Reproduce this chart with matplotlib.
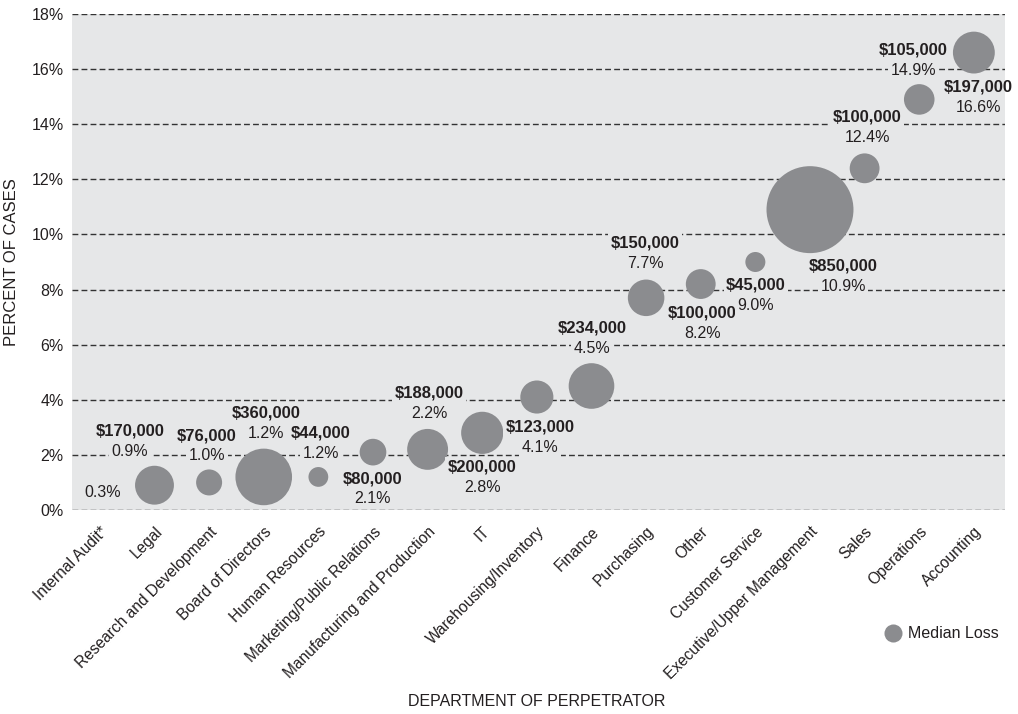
import matplotlib
matplotlib.use('Agg')
import matplotlib.pyplot as plt
from matplotlib.lines import Line2D
from matplotlib.ticker import FuncFormatter

# ------------------------------------------------------------
# 数据: 作案者所在部门 / 案件占比 / 损失中位数
# ------------------------------------------------------------
departments = [
    'Internal Audit*', 'Legal', 'Research and Development', 'Board of Directors',
    'Human Resources', 'Marketing/Public Relations', 'Manufacturing and Production',
    'IT', 'Warehousing/Inventory', 'Finance', 'Purchasing', 'Other',
    'Customer Service', 'Executive/Upper Management', 'Sales', 'Operations',
    'Accounting',
]
pct_cases = [0.3, 0.9, 1.0, 1.2, 1.2, 2.1, 2.2, 2.8, 4.1, 4.5, 7.7, 8.2,
             9.0, 10.9, 12.4, 14.9, 16.6]
# Internal Audit 无损失中位数 (样本不足)
median_loss = [None, 170000, 76000, 360000, 44000, 80000, 188000, 200000,
               123000, 234000, 150000, 100000, 45000, 850000, 100000,
               105000, 197000]

# 标签相对气泡的偏移 (数据坐标: dx 类别, dy 百分点)
label_offset = [
    (0.05, 0.32), (-0.45, 1.97), (-0.04, 1.69), (0.04, 2.32), (0.05, 1.59),
    (0.0, -0.97), (0.03, 2.05), (0.0, -1.24), (0.06, -1.09), (0.01, 2.10),
    (-0.02, 1.99), (0.03, -1.05), (0.01, -0.84), (0.61, -2.05),
    (0.05, 1.86), (-0.11, 1.79), (0.08, -1.25),
]

BG = '#e6e7e8'
BUBBLE = '#8b8c8f'
INK = '#231f20'
LINE_GAP = 0.73     # 金额与百分比两行之间的距离
SIZE_SCALE = 3920 / 850000   # 面积 ∝ 损失中位数

plt.rcParams['font.family'] = ['Liberation Sans', 'DejaVu Sans']

fig = plt.figure(figsize=(10.18, 7.14), dpi=100)
ax = fig.add_axes([72 / 1018, 1 - 510 / 714, (1005 - 72) / 1018, 496 / 714])
ax.set_facecolor(BG)

xs = list(range(len(departments)))

# 网格线 (虚线)
for yv in range(0, 19, 2):
    ax.axhline(yv, color='#333333', lw=1.0, ls=(0, (4.2, 2.3)), zorder=1)

# 气泡
bx = [x for x, m in zip(xs, median_loss) if m is not None]
by = [y for y, m in zip(pct_cases, median_loss) if m is not None]
bs = [m * SIZE_SCALE for m in median_loss if m is not None]
ax.scatter(bx, by, s=bs, color=BUBBLE, edgecolors='none', zorder=3)


def label(x, y, s, **kw):
    """文字底下垫一块背景色, 遮住虚线; 底块裁剪到绘图区内"""
    common = dict(ha='center', va='center', color=INK, zorder=4)
    common.update(kw)
    mask = dict(common, color=(0, 0, 0, 0),
                bbox=dict(boxstyle='square,pad=0.15', fc=BG, ec='none'))
    ax.text(x, y, s, clip_on=True, **mask)
    ax.text(x, y, s, **common)


for x, y, m, (dx, dy) in zip(xs, pct_cases, median_loss, label_offset):
    tx, ty = x + dx, y + dy
    if m is None:
        label(tx, ty, f'{y:.1f}%', fontsize=11.5)
        continue
    label(tx, ty, f'${m:,}', fontsize=12, fontweight='bold')
    label(tx, ty - LINE_GAP, f'{y:.1f}%', fontsize=11.5)

ax.set_xlim(-0.51, 16.57)
ax.set_ylim(0, 18)
ax.set_yticks(range(0, 19, 2))
ax.yaxis.set_major_formatter(FuncFormatter(lambda v, _: f'{v:.0f}%'))
ax.set_xticks(xs)
ax.set_xticklabels(departments, rotation=45, ha='right', va='top',
                   rotation_mode='anchor', fontsize=11.2, color=INK)
ax.tick_params(axis='both', length=0, colors=INK)
ax.tick_params(axis='y', labelsize=11.5, pad=6)
ax.tick_params(axis='x', pad=10)
for sp in ax.spines.values():
    sp.set_visible(False)

fig.text(12 / 1018, 1 - 262 / 714, 'PERCENT OF CASES', rotation=90,
         ha='center', va='center', fontsize=12, color=INK)
fig.text(537 / 1018, 1 - 702 / 714, 'DEPARTMENT OF PERPETRATOR',
         ha='center', va='center', fontsize=11.5, color=INK)

handle = Line2D([], [], marker='o', ls='none', markersize=13,
                markerfacecolor=BUBBLE, markeredgecolor='none')
fig.legend([handle], ['Median Loss'], loc='center left',
           bbox_to_anchor=(883 / 1018, 1 - 634 / 714), frameon=False,
           fontsize=11.5, handletextpad=0.35, borderaxespad=0, borderpad=0,
           handlelength=1.2, labelcolor=INK)

fig.savefig('out.png', dpi=100)
